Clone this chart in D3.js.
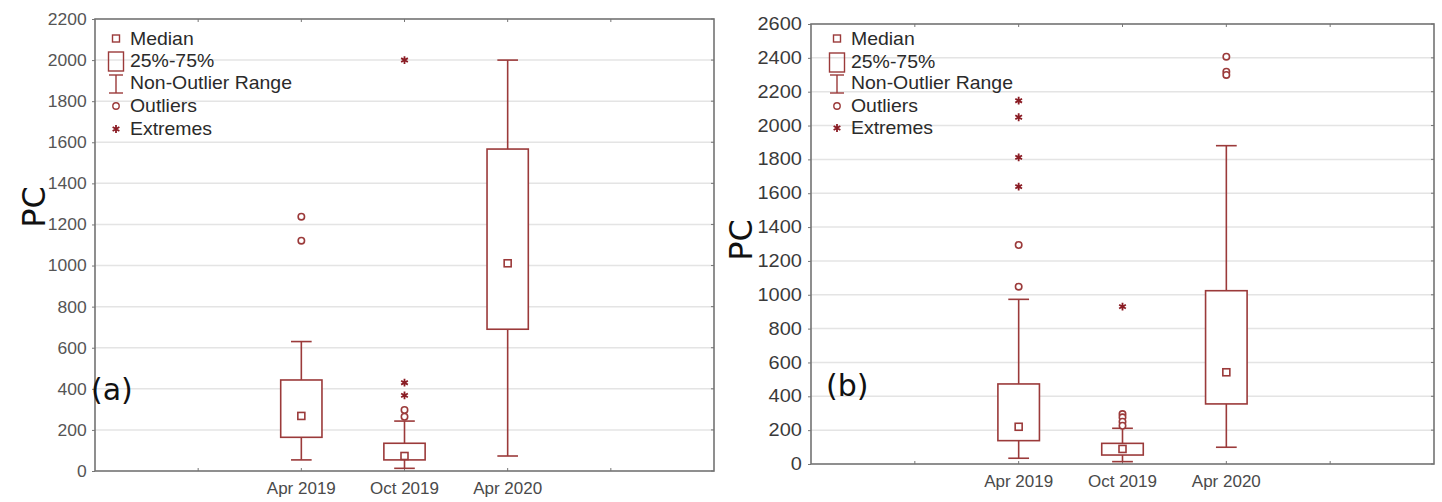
<!DOCTYPE html>
<html>
<head>
<meta charset="utf-8">
<script src="https://cdn.jsdelivr.net/npm/d3@7"></script>
<style>
  body { margin: 0; background: #fff; }
  svg { display: block; }
</style>
</head>
<body>
<script>
var w = 1442;
var h = 502;
var boxColor = "#9b3a3a";
var starColor = "#8a1c24";

var categories = ["Apr 2019", "Oct 2019", "Apr 2020"];

// panel (a)
var aMin = [54, 13, 73];
var aQ1 = [164, 54, 690];
var aMedian = [268, 73, 1011];
var aQ3 = [443, 135, 1567];
var aMax = [630, 243, 2000];
var aOutliers = [[1238, 1121], [297, 264], []];
var aExtremes = [[], [430, 368, 2000], []];
var aTicks = d3.range(0, 2201, 200);

// panel (b)
var bMin = [34, 14, 99];
var bQ1 = [138, 53, 355];
var bMedian = [220, 89, 542];
var bQ3 = [473, 122, 1024];
var bMax = [973, 211, 1881];
var bOutliers = [[1294, 1048], [295, 276, 250, 226], [2407, 2318, 2299]];
var bExtremes = [[2147, 2049, 1812, 1639], [930], []];
var bTicks = d3.range(0, 2601, 200);

var legendItems = ["Median", "25%-75%", "Non-Outlier Range", "Outliers", "Extremes"];

var svg = d3.select("body").append("svg")
    .attr("width", w)
    .attr("height", h);

var star = d3.symbol().type(d3.symbolAsterisk).size(42);

function drawPanel(p) {
    var g = svg.append("g");
    var x = d3.scaleLinear().domain([0, 6]).range([p.left, p.right]);
    var y = d3.scaleLinear().domain([0, p.ticks[p.ticks.length - 1]]).range([p.bottom, p.top]);
    var half = (x(1) - x(0)) * 0.2;
    var cap = (x(1) - x(0)) * 0.1;

    // gridlines
    g.selectAll(".grid").data(p.ticks.slice(1, -1)).enter().append("line")
        .attr("x1", p.left).attr("x2", p.right)
        .attr("y1", d => y(d)).attr("y2", d => y(d))
        .attr("stroke", "#e4e4e4").attr("stroke-width", 1.5);

    // y axis labels
    var yAxis = g.append("g")
        .attr("transform", "translate(" + p.left + ",0)")
        .call(d3.axisLeft(y).tickValues(p.ticks).tickSize(3).tickPadding(5).tickFormat(d3.format("d")));
    yAxis.select(".domain").remove();
    yAxis.selectAll("line").attr("stroke", "#777");
    yAxis.selectAll("text")
        .attr("font-family", "Liberation Sans, Arial, sans-serif")
        .attr("font-size", p.tickSize)
        .attr("transform", "scale(" + p.tickStretch + ",1)")
        .attr("fill", p.tickColor);

    // right-side small ticks
    g.selectAll(".rt").data(p.ticks).enter().append("line")
        .attr("x1", p.right - 3).attr("x2", p.right)
        .attr("y1", d => y(d)).attr("y2", d => y(d))
        .attr("stroke", "#777");

    // x ticks top and bottom
    var xt = [1, 2, 3, 4, 5];
    g.selectAll(".bt").data(xt).enter().append("line")
        .attr("x1", d => x(d)).attr("x2", d => x(d))
        .attr("y1", p.bottom).attr("y2", p.bottom - 3)
        .attr("stroke", "#777");
    g.selectAll(".tt").data(xt).enter().append("line")
        .attr("x1", d => x(d)).attr("x2", d => x(d))
        .attr("y1", p.top).attr("y2", p.top + 3)
        .attr("stroke", "#777");

    // frame
    g.append("rect")
        .attr("x", p.left).attr("y", p.top)
        .attr("width", p.right - p.left).attr("height", p.bottom - p.top)
        .attr("fill", "none").attr("stroke", "#737373").attr("stroke-width", 1.6);

    // x labels
    g.selectAll(".xl").data(categories).enter().append("text")
        .text(d => d)
        .attr("x", (d, i) => x(i + 2))
        .attr("y", p.bottom + 23)
        .attr("text-anchor", "middle")
        .attr("font-family", "Liberation Sans, Arial, sans-serif")
        .attr("font-size", 17)
        .attr("fill", "#4a4a4a");

    // boxes
    categories.forEach(function (c, i) {
        var cx = x(i + 2);
        var bg = g.append("g").attr("stroke", boxColor).attr("stroke-width", 1.6).attr("fill", "none");
        bg.append("line").attr("x1", cx).attr("x2", cx).attr("y1", y(p.q3[i])).attr("y2", y(p.max[i]));
        bg.append("line").attr("x1", cx).attr("x2", cx).attr("y1", y(p.q1[i])).attr("y2", y(p.min[i]));
        bg.append("line").attr("x1", cx - cap).attr("x2", cx + cap).attr("y1", y(p.max[i])).attr("y2", y(p.max[i]));
        bg.append("line").attr("x1", cx - cap).attr("x2", cx + cap).attr("y1", y(p.min[i])).attr("y2", y(p.min[i]));
        bg.append("rect")
            .attr("x", cx - half).attr("y", y(p.q3[i]))
            .attr("width", half * 2).attr("height", y(p.q1[i]) - y(p.q3[i]))
            .attr("fill", "#fff");
        bg.append("rect")
            .attr("x", cx - 3.5).attr("y", y(p.median[i]) - 3.5)
            .attr("width", 7).attr("height", 7).attr("fill", "#fff");
        bg.selectAll("circle").data(p.outliers[i]).enter().append("circle")
            .attr("cx", cx).attr("cy", d => y(d)).attr("r", 3.2).attr("fill", "#fff");
        g.selectAll(null).data(p.extremes[i]).enter().append("path")
            .attr("d", star)
            .attr("transform", d => "translate(" + cx + "," + y(d) + ")")
            .attr("fill", starColor).attr("stroke", starColor).attr("stroke-width", 1.8);
    });

    // legend
    var lg = g.append("g");
    var lx = p.legendX;
    var rows = p.legendRows;
    lg.selectAll("text").data(legendItems).enter().append("text")
        .text(d => d)
        .attr("transform", (d, i) => "translate(" + (lx + 14) + "," + rows[i] + ") scale(1.08,1)")
        .attr("font-family", "Liberation Sans, Arial, sans-serif")
        .attr("font-size", 18)
        .attr("fill", "#2a2a2a");
    var ls = lg.append("g").attr("stroke", boxColor).attr("stroke-width", 1.4).attr("fill", "none");
    ls.append("rect").attr("x", lx - 3.5).attr("y", rows[0] - 10).attr("width", 7).attr("height", 7);
    ls.append("rect").attr("x", lx - 7.5).attr("y", rows[1] - 15).attr("width", 15).attr("height", 19);
    ls.append("line").attr("x1", lx).attr("x2", lx).attr("y1", rows[2] - 14).attr("y2", rows[2] + 4);
    ls.append("line").attr("x1", lx - 7).attr("x2", lx + 7).attr("y1", rows[2] - 14).attr("y2", rows[2] - 14);
    ls.append("line").attr("x1", lx - 7).attr("x2", lx + 7).attr("y1", rows[2] + 4).attr("y2", rows[2] + 4);
    ls.append("circle").attr("cx", lx).attr("cy", rows[3] - 6).attr("r", 3.2);
    lg.append("path").attr("d", star)
        .attr("transform", "translate(" + lx + "," + (rows[4] - 6) + ")")
        .attr("fill", starColor).attr("stroke", starColor).attr("stroke-width", 1.8);

    // axis title and panel tag
    g.append("text")
        .text("PC")
        .attr("transform", "translate(" + p.titleX + "," + p.titleY + ") rotate(-90)")
        .attr("text-anchor", "middle")
        .attr("font-family", "DejaVu Sans, sans-serif")
        .attr("font-size", 32)
        .attr("fill", "#111");
    g.append("text")
        .text(p.tag)
        .attr("x", p.tagX)
        .attr("y", p.tagY)
        .attr("font-family", "DejaVu Sans, sans-serif")
        .attr("font-size", 30)
        .attr("fill", "#111");
}

drawPanel({
    left: 95, right: 714, top: 19, bottom: 471,
    ticks: aTicks, tickSize: 17, tickStretch: 1.03, tickColor: "#555",
    min: aMin, q1: aQ1, median: aMedian, q3: aQ3, max: aMax,
    outliers: aOutliers, extremes: aExtremes,
    legendX: 116, legendRows: [45, 67, 89, 112, 135],
    titleX: 45, titleY: 207,
    tag: "(a)", tagX: 91, tagY: 400
});

drawPanel({
    left: 811, right: 1434, top: 24, bottom: 464,
    ticks: bTicks, tickSize: 17.5, tickStretch: 1.14, tickColor: "#3a3a3a",
    min: bMin, q1: bQ1, median: bMedian, q3: bQ3, max: bMax,
    outliers: bOutliers, extremes: bExtremes,
    legendX: 837, legendRows: [45, 68, 89, 112, 134],
    titleX: 752, titleY: 240,
    tag: "(b)", tagX: 826, tagY: 396
});
</script>
</body>
</html>
